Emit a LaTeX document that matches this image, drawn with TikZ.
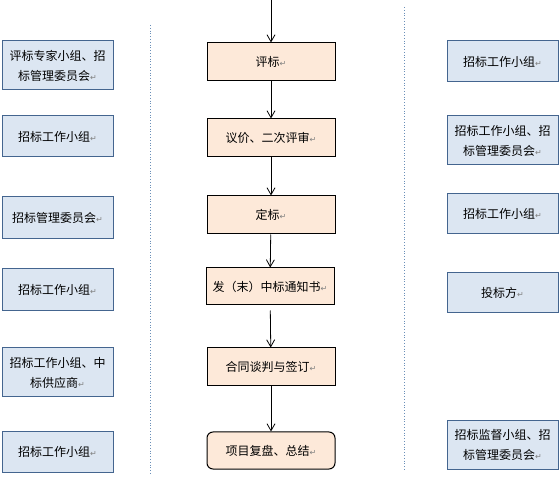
\documentclass[tikz,border=0pt]{standalone}
\usepackage{fontspec}
\setmainfont{Noto Sans CJK SC}
\newfontfamily\dejavu{DejaVu Sans}
\usepackage{xcolor}
\usetikzlibrary{arrows.meta}
\definecolor{roleblue}{HTML}{DCE6F2}
\definecolor{roleline}{HTML}{44658F}
\definecolor{stepfill}{HTML}{FDE9D9}
\definecolor{sepline}{HTML}{6A8FB8}
\newcommand{\pmk}{{\dejavu\color{gray}\fontsize{8}{8}\selectfont ↵}}
\tikzset{
  role/.style={draw=roleline,fill=roleblue,line width=1pt,minimum width=111pt,
    align=center,inner sep=1pt,font=\fontsize{12}{20}\selectfont},
  stepbox/.style={draw=black,fill=stepfill,line width=1pt,minimum width=128pt,
    inner sep=1pt,font=\fontsize{12}{20}\selectfont},
  flow/.style={-{Straight Barb[length=7pt,width=8pt]},line width=0.8pt}
}
\begin{document}
\begin{tikzpicture}[x=1pt,y=-1pt]
      \useasboundingbox (0,0) rectangle (560,478);
      \draw [color=sepline,dotted,line width=0.8pt] (150,25) -- (150,475);
      \draw [color=sepline,dotted,line width=0.8pt] (404,7) -- (404,470);
%%
      \coordinate (top) at (271,0);
      \node (PB) [stepbox,minimum height=38pt] at (271,62) {评标\pmk};
      \node (YJ) [stepbox,minimum height=38pt] at (271,138) {议价、二次评审\pmk};
      \node (DB) [stepbox,minimum height=38pt] at (271,215) {定标\pmk};
      \node (TZ) [stepbox,minimum height=37pt] at (270,286.5) {发（末）中标通知书\pmk};
      \node (HT) [stepbox,minimum height=38pt] at (271,367) {合同谈判与签订\pmk};
      \node (FP) [stepbox,minimum height=37pt,rounded corners=6pt] at (271,450.5) {项目复盘、总结\pmk};
      \draw [flow] (top) -- (PB);
      \draw [flow] (PB) -- (YJ);
      \draw [flow] (YJ) -- (DB);
      \draw [flow] (DB) -- (TZ);
      \draw [flow,shorten <=5pt] (TZ) -- (HT);
      \draw [flow] (HT) -- (FP);
%%
      \node (PBL) [role,minimum height=49pt] at (57.5,65.5) {评标专家小组、招\\标管理委员会\pmk};
      \node (YJL) [role,minimum height=41pt] at (57.5,136.5) {招标工作小组\pmk};
      \node (DBL) [role,minimum height=42pt] at (57.5,218) {招标管理委员会\pmk};
      \node (TZL) [role,minimum height=42pt] at (57.5,290) {招标工作小组\pmk};
      \node (HTL) [role,minimum height=49pt] at (57.5,372.5) {招标工作小组、中\\标供应商\pmk};
      \node (FPL) [role,minimum height=40pt] at (57.5,452) {招标工作小组\pmk};
%%
      \node (PBR) [role,minimum height=41pt] at (502.5,61.5) {招标工作小组\pmk};
      \node (YJR) [role,minimum height=49pt] at (502.5,140.5) {招标工作小组、招\\标管理委员会\pmk};
      \node (DBR) [role,minimum height=40pt] at (502.5,214) {招标工作小组\pmk};
      \node (TZR) [role,minimum height=40pt] at (502.5,293) {投标方\pmk};
      \node (FPR) [role,minimum height=48pt] at (502.5,445) {招标监督小组、招\\标管理委员会\pmk};
    \end{tikzpicture}
\end{document}
